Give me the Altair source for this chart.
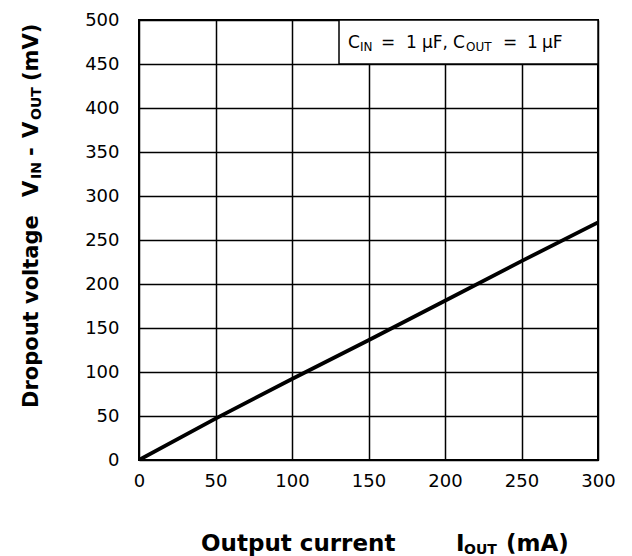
import altair as alt
import pandas as pd

# ---- data ----
current_mA = [0, 50, 100, 150, 200, 250, 300]
dropout_mV = [0, 47, 92, 136, 181, 226, 270]

x_ticks = [0, 50, 100, 150, 200, 250, 300]
y_ticks = [0, 50, 100, 150, 200, 250, 300, 350, 400, 450, 500]

FONT = "DejaVu Sans"
PW, PH = 459, 440  # plot area

df = pd.DataFrame({"I": current_mA, "V": dropout_mV})

line = alt.Chart(df).mark_line(color="black", strokeWidth=3.8, clip=True).encode(
    x=alt.X("I:Q",
            scale=alt.Scale(domain=[0, 300], nice=False),
            axis=alt.Axis(values=x_ticks, title=None, grid=True, gridColor="black",
                          gridWidth=1.5, gridOpacity=1, ticks=False, domain=False,
                          labelFont=FONT, labelFontSize=18, labelColor="black",
                          labelPadding=12, labelFlush=False)),
    y=alt.Y("V:Q",
            scale=alt.Scale(domain=[0, 500], nice=False),
            axis=alt.Axis(values=y_ticks, title=None, grid=True, gridColor="black",
                          gridWidth=1.5, gridOpacity=1, ticks=False, domain=False,
                          labelFont=FONT, labelFontSize=18, labelColor="black",
                          labelPadding=20, labelFlush=False)),
)

# legend box
box = alt.Chart(pd.DataFrame({"a": [0]})).mark_rect(
    fill="white", stroke="black", strokeWidth=1.5
).encode(x=alt.value(200), x2=alt.value(PW), y=alt.value(0), y2=alt.value(44))


def text_layer(t, x, y, size, angle=0, bold=False):
    kw = dict(font=FONT, fontSize=size, color="black", align="left",
              baseline="alphabetic")
    if bold:
        kw["fontWeight"] = "bold"
    if angle:
        kw["angle"] = angle
    return alt.Chart(pd.DataFrame({"t": [t]})).mark_text(**kw).encode(
        text="t:N", x=alt.value(x), y=alt.value(y))


# legend text pieces (left edges, relative to plot origin)
legend_items = [
    ("C", 209, 28, 17),
    ("IN", 221, 31, 12),
    ("=", 242, 28, 17),
    ("1", 267, 28, 17),
    ("\u03bcF,", 283, 28, 17),
    ("C", 314, 28, 17),
    ("OUT", 327, 31, 12),
    ("=", 364, 28, 17),
    ("1", 388, 28, 17),
    ("\u03bcF", 403, 28, 17),
]
legend_layers = [text_layer(t, x, y, s) for t, x, y, s in legend_items]

# x-axis title pieces
xt_items = [
    ("Output current", 62, 531, 23),
    ("I", 317, 531, 23),
    ("OUT", 325, 534, 14),
    ("(mA)", 367, 531, 23),
]
xt_layers = [text_layer(t, x, y, s, bold=True) for t, x, y, s in xt_items]

# y-axis title pieces (rotated, reading upward; y is the start of each piece)
yt_items = [
    ("Dropout voltage", -101, 388, 21),
    ("V", -101, 177, 21),
    ("IN", -98, 159, 14),
    ("-", -101, 136, 21),
    ("V", -101, 118, 21),
    ("OUT", -98, 100, 14),
    ("(mV)", -101, 61, 21),
]
yt_layers = [text_layer(t, x, y, s, angle=270, bold=True) for t, x, y, s in yt_items]

chart = alt.layer(line, box, *legend_layers, *xt_layers, *yt_layers).properties(
    width=PW, height=PH,
    autosize=alt.AutoSizeParams(type="none"),
    padding={"left": 139, "top": 20, "right": 632 - 139 - PW, "bottom": 556 - 20 - PH},
    background="white",
).configure_view(stroke="black", strokeWidth=2)

chart.save("out.html", embed_options={"renderer": "svg", "actions": False})
